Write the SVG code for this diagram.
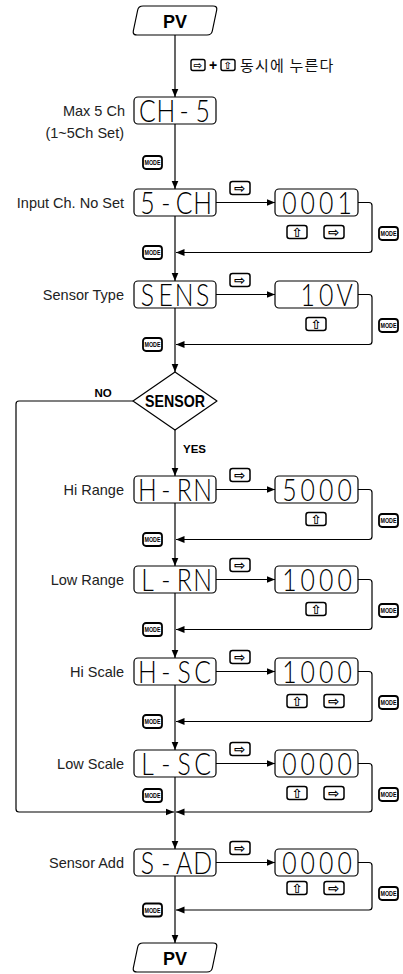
<svg xmlns="http://www.w3.org/2000/svg" xmlns:xlink="http://www.w3.org/1999/xlink" width="403" height="974" viewBox="0 0 403 974">
<style>
.box{fill:#fff;stroke:#000;stroke-width:1.2}
.lcd{font-family:"Lato","Liberation Sans",Arial,sans-serif;font-weight:300;font-size:31px;text-anchor:middle;fill:#000}
.lbl{font-family:"Liberation Sans",Arial,sans-serif;font-size:14.5px;text-anchor:end;fill:#222}
.con{fill:none;stroke:#000;stroke-width:1.2}
.arr{marker-end:url(#ah)}
.bold{font-family:"Liberation Sans",Arial,sans-serif;font-weight:bold;fill:#000}
</style>
<defs>
<marker id="ah" markerWidth="9" markerHeight="8" refX="8.5" refY="4" orient="auto" markerUnits="userSpaceOnUse"><path d="M0,0.5 L8.5,4 L0,7.5 Z" fill="#000"/></marker>
<g id="kR"><rect x="0" y="0" width="20" height="13" rx="2.5" fill="#fff" stroke="#000" stroke-width="1.5"/><text x="10" y="11" font-family="DejaVu Sans,sans-serif" font-weight="bold" font-size="13.5" text-anchor="middle" fill="#000">⇨</text></g>
<g id="kU"><rect x="0" y="0" width="20" height="13" rx="2.5" fill="#fff" stroke="#000" stroke-width="1.5"/><text transform="translate(10,6.5) rotate(-90)" x="0" y="4" font-family="DejaVu Sans,sans-serif" font-weight="bold" font-size="12.5" text-anchor="middle" fill="#000">⇨</text></g>
<g id="md"><rect x="0" y="0" width="19" height="13" rx="3" fill="#fff" stroke="#000" stroke-width="1.8"/><text x="9.5" y="9" font-family="Liberation Sans,Arial,sans-serif" font-weight="bold" font-size="7" text-anchor="middle" textLength="16" lengthAdjust="spacingAndGlyphs" fill="#000">MODE</text></g>
<path id="pvs" d="M143,6 H213 Q217.5,6 216.7,10 L212.3,31 Q211.5,35 207,35 H137 Q132.5,35 133.3,31 L137.7,10 Q138.5,6 143,6 Z"/>
</defs>

<g id="connectors">
<path class="con arr" d="M175,35 V97"/>
<path class="con arr" d="M175,124 V189"/>
<path class="con arr" d="M216,202.5 H275"/>
<path class="con arr" d="M358,202.5 H369 Q372,202.5 372,205.5 V249.5 Q372,252.5 369,252.5 H176"/>
<path class="con arr" d="M175,216 V281"/>
<path class="con arr" d="M216,294.5 H275"/>
<path class="con arr" d="M358,294.5 H369 Q372,294.5 372,297.5 V341.5 Q372,344.5 369,344.5 H176"/>
<path class="con arr" d="M175,308 V372"/>
<path class="con arr" d="M133,401 H19 Q16,401 16,404 V809 Q16,812 19,812 H174"/>
<path class="con arr" d="M175,430 V476"/>
<path class="con arr" d="M216,489.5 H275"/>
<path class="con arr" d="M358,489.5 H369 Q372,489.5 372,492.5 V536.5 Q372,539.5 369,539.5 H176"/>
<path class="con arr" d="M175,503 V566"/>
<path class="con arr" d="M216,579.5 H275"/>
<path class="con arr" d="M358,579.5 H369 Q372,579.5 372,582.5 V626.5 Q372,629.5 369,629.5 H176"/>
<path class="con arr" d="M175,593 V658"/>
<path class="con arr" d="M216,671.5 H275"/>
<path class="con arr" d="M358,671.5 H369 Q372,671.5 372,674.5 V718.5 Q372,721.5 369,721.5 H176"/>
<path class="con arr" d="M175,685 V750"/>
<path class="con arr" d="M216,763.5 H275"/>
<path class="con arr" d="M358,763.5 H369 Q372,763.5 372,766.5 V809 Q372,812 369,812 H176"/>
<path class="con arr" d="M175,777 V849"/>
<path class="con arr" d="M216,862.5 H275"/>
<path class="con arr" d="M358,862.5 H369 Q372,862.5 372,865.5 V907 Q372,910 369,910 H176"/>
<path class="con arr" d="M175,876 V943"/>
</g>

<g id="pv-top">
<use xlink:href="#pvs" class="box"/>
<text class="bold" x="175" y="28" font-size="18" text-anchor="middle">PV</text>
</g>

<g id="hint">
<rect x="191" y="59.5" width="14" height="11" rx="2" fill="#fff" stroke="#000" stroke-width="1.4"/>
<text x="198" y="69" font-family="DejaVu Sans,sans-serif" font-weight="bold" font-size="10.5" text-anchor="middle">⇨</text>
<text class="bold" x="213" y="70" font-size="14" text-anchor="middle">+</text>
<rect x="221" y="59.5" width="14" height="11" rx="2" fill="#fff" stroke="#000" stroke-width="1.4"/>
<text transform="translate(228,65) rotate(-90)" x="0" y="3.3" font-family="DejaVu Sans,sans-serif" font-weight="bold" font-size="10" text-anchor="middle">⇨</text>
<text x="240" y="70.5" font-family="Noto Sans CJK KR,sans-serif" font-size="15" letter-spacing="1.2" fill="#111">동시에 누른다</text>
</g>

<g id="n-ch5">
<rect class="box" x="134" y="97" width="82" height="27" rx="4"/>
<g transform="translate(175,121.5) scale(0.8,1)"><text class="lcd" x="-34.5 -11.5 11.5 34.5" y="0">CH-5</text></g>
<text class="lbl" x="125" y="115.5">Max 5 Ch</text>
<text class="lbl" x="124" y="138">(1~5Ch Set)</text>
<use xlink:href="#md" x="143" y="156"/>
</g>

<g id="n-5ch">
<rect class="box" x="134" y="189" width="82" height="27" rx="4"/>
<g transform="translate(175,213.5) scale(0.8,1)"><text class="lcd" x="-34.5 -11.5 11.5 34.5" y="0">5-CH</text></g>
<text class="lbl" x="124" y="207.5">Input Ch. No Set</text>
<use xlink:href="#kR" x="230" y="181.5"/>
<use xlink:href="#md" x="143" y="246"/>
</g>
<g id="v-0001">
<rect class="box" x="275" y="189" width="83" height="27" rx="4"/>
<g transform="translate(317,213.5) scale(0.8,1)"><text class="lcd" x="-34.5 -11.5 11.5 34.5" y="0">0001</text></g>
<use xlink:href="#kU" x="287" y="225.5"/>
<use xlink:href="#kR" x="324" y="225.5"/>
<use xlink:href="#md" x="379" y="227"/>
</g>

<g id="n-sens">
<rect class="box" x="134" y="281" width="82" height="27" rx="4"/>
<g transform="translate(175,305.5) scale(0.8,1)"><text class="lcd" x="-34.5 -11.5 11.5 34.5" y="0">SENS</text></g>
<text class="lbl" x="124" y="299.5">Sensor Type</text>
<use xlink:href="#kR" x="230" y="273.5"/>
<use xlink:href="#md" x="143" y="338"/>
</g>
<g id="v-10v">
<rect class="box" x="275" y="281" width="83" height="27" rx="4"/>
<g transform="translate(317,305.5) scale(0.8,1)"><text class="lcd" x="-11.5 11.5 34.5" y="0">10V</text></g>
<use xlink:href="#kU" x="306" y="317.5"/>
<use xlink:href="#md" x="379" y="319"/>
</g>

<g id="d-sensor">
<path class="box" d="M175,372 L217,401 L175,430 L133,401 Z" stroke-linejoin="round"/>
<text class="bold" x="175" y="407" font-size="16.5" text-anchor="middle" textLength="60" lengthAdjust="spacingAndGlyphs">SENSOR</text>
<text class="bold" x="103" y="397" font-size="11.5" text-anchor="middle">NO</text>
<text class="bold" x="183" y="453" font-size="11.5">YES</text>
</g>

<g id="n-hrn">
<rect class="box" x="134" y="476" width="82" height="27" rx="4"/>
<g transform="translate(175,500.5) scale(0.8,1)"><text class="lcd" x="-34.5 -11.5 11.5 34.5" y="0">H-RN</text></g>
<text class="lbl" x="124" y="494.5">Hi Range</text>
<use xlink:href="#kR" x="230" y="468.5"/>
<use xlink:href="#md" x="143" y="533"/>
</g>
<g id="v-5000">
<rect class="box" x="275" y="476" width="83" height="27" rx="4"/>
<g transform="translate(317,500.5) scale(0.8,1)"><text class="lcd" x="-34.5 -11.5 11.5 34.5" y="0">5000</text></g>
<use xlink:href="#kU" x="306" y="512.5"/>
<use xlink:href="#md" x="379" y="514"/>
</g>

<g id="n-lrn">
<rect class="box" x="134" y="566" width="82" height="27" rx="4"/>
<g transform="translate(175,590.5) scale(0.8,1)"><text class="lcd" x="-34.5 -11.5 11.5 34.5" y="0">L-RN</text></g>
<text class="lbl" x="124" y="584.5">Low Range</text>
<use xlink:href="#kR" x="230" y="558.5"/>
<use xlink:href="#md" x="143" y="623"/>
</g>
<g id="v-1000a">
<rect class="box" x="275" y="566" width="83" height="27" rx="4"/>
<g transform="translate(317,590.5) scale(0.8,1)"><text class="lcd" x="-34.5 -11.5 11.5 34.5" y="0">1000</text></g>
<use xlink:href="#kU" x="306" y="602.5"/>
<use xlink:href="#md" x="379" y="604"/>
</g>

<g id="n-hsc">
<rect class="box" x="134" y="658" width="82" height="27" rx="4"/>
<g transform="translate(175,682.5) scale(0.8,1)"><text class="lcd" x="-34.5 -11.5 11.5 34.5" y="0">H-SC</text></g>
<text class="lbl" x="124" y="676.5">Hi Scale</text>
<use xlink:href="#kR" x="230" y="650.5"/>
<use xlink:href="#md" x="143" y="715"/>
</g>
<g id="v-1000b">
<rect class="box" x="275" y="658" width="83" height="27" rx="4"/>
<g transform="translate(317,682.5) scale(0.8,1)"><text class="lcd" x="-34.5 -11.5 11.5 34.5" y="0">1000</text></g>
<use xlink:href="#kU" x="287" y="694.5"/>
<use xlink:href="#kR" x="324" y="694.5"/>
<use xlink:href="#md" x="379" y="696"/>
</g>

<g id="n-lsc">
<rect class="box" x="134" y="750" width="82" height="27" rx="4"/>
<g transform="translate(175,774.5) scale(0.8,1)"><text class="lcd" x="-34.5 -11.5 11.5 34.5" y="0">L-SC</text></g>
<text class="lbl" x="124" y="768.5">Low Scale</text>
<use xlink:href="#kR" x="230" y="742.5"/>
<use xlink:href="#md" x="143" y="789"/>
</g>
<g id="v-0000a">
<rect class="box" x="275" y="750" width="83" height="27" rx="4"/>
<g transform="translate(317,774.5) scale(0.8,1)"><text class="lcd" x="-34.5 -11.5 11.5 34.5" y="0">0000</text></g>
<use xlink:href="#kU" x="287" y="786.5"/>
<use xlink:href="#kR" x="324" y="786.5"/>
<use xlink:href="#md" x="379" y="788"/>
</g>

<g id="n-sad">
<rect class="box" x="134" y="849" width="82" height="27" rx="4"/>
<g transform="translate(175,873.5) scale(0.8,1)"><text class="lcd" x="-34.5 -11.5 11.5 34.5" y="0">S-AD</text></g>
<text class="lbl" x="124" y="867.5">Sensor Add</text>
<use xlink:href="#kR" x="230" y="841.5"/>
<use xlink:href="#md" x="143" y="903.5"/>
</g>
<g id="v-0000b">
<rect class="box" x="275" y="849" width="83" height="27" rx="4"/>
<g transform="translate(317,873.5) scale(0.8,1)"><text class="lcd" x="-34.5 -11.5 11.5 34.5" y="0">0000</text></g>
<use xlink:href="#kU" x="287" y="881.5"/>
<use xlink:href="#kR" x="324" y="881.5"/>
<use xlink:href="#md" x="379" y="887"/>
</g>

<g id="pv-bottom">
<use xlink:href="#pvs" class="box" transform="translate(0,937)"/>
<text class="bold" x="175" y="965" font-size="18" text-anchor="middle">PV</text>
</g>
</svg>
